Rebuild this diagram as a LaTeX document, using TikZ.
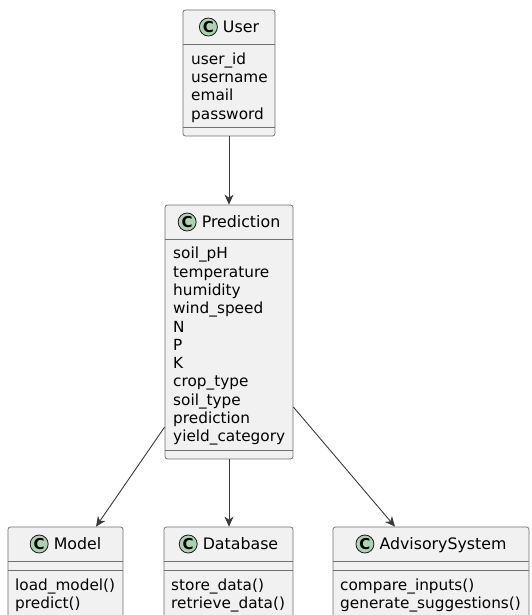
\documentclass[tikz,border=0pt]{standalone}
\usepackage{fontspec}
\setmainfont{DejaVu Sans}
\usetikzlibrary{arrows.meta,positioning}
\definecolor{clsfill}{HTML}{F1F1F1}
\definecolor{clsline}{HTML}{181818}
\definecolor{boxline}{HTML}{6F6F6F}
\definecolor{badgefill}{HTML}{ADD1B2}
\tikzset{
  arr/.style={line width=0.9pt, draw=clsline!85, -{Stealth[length=10pt, width=9pt, inset=3pt]}},
  clsbox/.style={draw=boxline, line width=0.7pt, fill=clsfill, rounded corners=2.5pt, inner sep=0pt},
  sep/.style={draw=boxline, line width=0.7pt},
  ttl/.style={inner sep=0pt, text height=11pt, text depth=0pt, font=\fontsize{15.8}{18.3}\selectfont},
  badge/.style={circle, draw=clsline, line width=0.8pt, fill=badgefill, minimum size=18pt, inner sep=0pt,
    font=\fontsize{15}{15}\selectfont\bfseries},
  mem/.style={anchor=north west, inner sep=0pt, align=left, execute at begin node=\rule{0pt}{12pt}},
}
\newcommand{\cls}[6]{\node[clsbox, minimum width={#4-#2}, minimum height={#5-#3}] (#1) at ({(#2+#4)/2},{(#3+#5)/2}) {};
  \node[ttl] (#1-t) at ({(#2+#4)/2+12},{#3+17}) {#6};
  \node[badge, left=5pt of #1-t] (#1-c) {C};
  \draw[sep] (#2,#3+34) -- (#4,#3+34);}
\newcommand{\sect}[3]{\draw[sep] (#1,#3) -- (#2,#3);}
\newcommand{\mems}[4]{\node[mem] (#1) at (#2,#3) {#4};}

\begin{document}
\begin{tikzpicture}[x=1pt, y=-1pt, font=\fontsize{15.3}{18.3}\selectfont]

\clip (0,0) rectangle (531,615);

\cls{user}{183}{10}{275}{136}{User}
\mems{user-a}{191}{52.5}{user\_id\\username\\email\\password}
\sect{183}{275}{127}

\cls{pred}{165}{205}{293}{459}{Prediction}
\mems{pred-a}{173}{247}{soil\_pH\\temperature\\humidity\\wind\_speed\\N\\P\\K\\crop\_type\\soil\_type\\prediction\\yield\_category}
\sect{165}{293}{450}

\cls{model}{8}{527}{123}{630}{Model}
\sect{8}{123}{570}
\mems{model-m}{15}{578.5}{load\_model()\\predict()}

\cls{db}{164}{527}{293}{630}{Database}
\sect{164}{293}{570}
\mems{db-m}{171}{578.5}{store\_data()\\retrieve\_data()}

\cls{adv}{333}{527}{529}{630}{AdvisorySystem}
\sect{333}{529}{570}
\mems{adv-m}{340}{578.5}{compare\_inputs()\\generate\_suggestions()}

\draw[arr] (user) -- (pred);
\draw[arr] ([yshift=-95pt]pred.west) -- ([xshift=30.5pt]model.north);
\draw[arr] (pred.south) -- (pred.south |- db.north);
\draw[arr] ([yshift=-75pt]pred.east) -- ([xshift=-36pt]adv.north);

\end{tikzpicture}
\end{document}
